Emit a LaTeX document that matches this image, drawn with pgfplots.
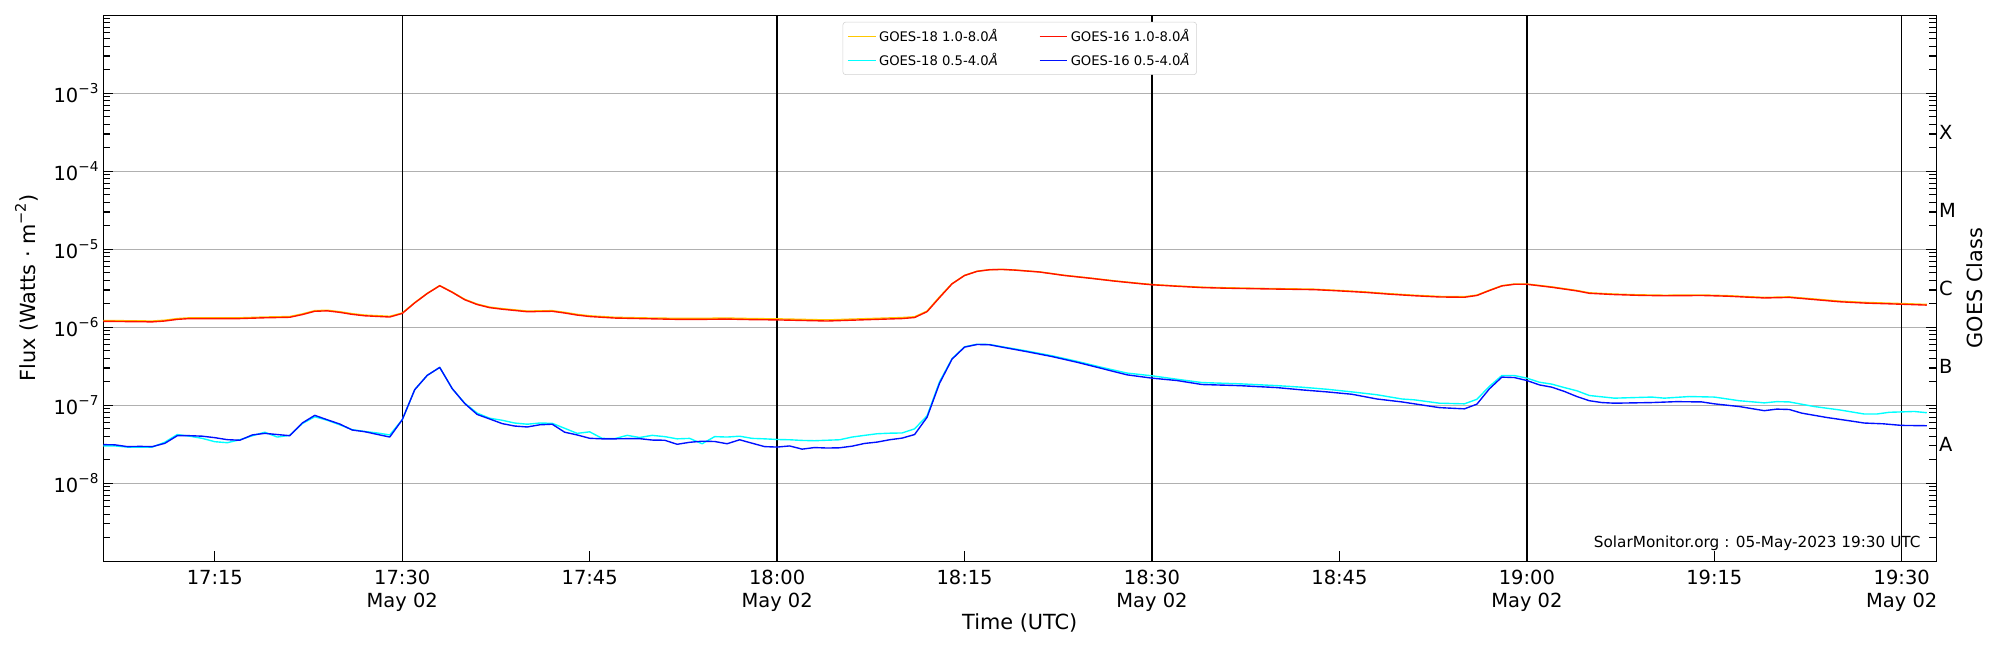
\documentclass[border=0pt]{standalone}
\usepackage{fontspec}
\setmainfont{DejaVu Sans}
\usepackage{pgfplots}
\pgfplotsset{compat=1.18}
\usepackage{pgfplotstable}

\definecolor{g18long}{RGB}{255,200,0}
\definecolor{g18short}{RGB}{0,255,255}
\definecolor{g16long}{RGB}{255,16,0}
\definecolor{g16short}{RGB}{0,16,255}
\definecolor{gridgray}{RGB}{176,176,176}

\newcommand\tickfont{\fontsize{14}{16.6}\selectfont}
\newcommand\labfont{\fontsize{15}{18}\selectfont}
\newcommand\p[1]{10\raisebox{0.48em}{\fontsize{9.8}{10}\selectfont −#1}}

\pgfplotstableread{
m f
6 1.19e-6
8 1.18e-6
10 1.17e-6
11 1.20e-6
12 1.26e-6
13 1.29e-6
15 1.29e-6
17 1.29e-6
19 1.32e-6
21 1.34e-6
22 1.45e-6
23 1.60e-6
24 1.62e-6
25 1.55e-6
26 1.46e-6
27 1.40e-6
29 1.35e-6
30 1.50e-6
31 2.05e-6
32 2.70e-6
33 3.40e-6
34 2.80e-6
35 2.25e-6
36 1.95e-6
37 1.78e-6
38 1.70e-6
40 1.58e-6
42 1.60e-6
43 1.52e-6
44 1.43e-6
45 1.37e-6
47 1.31e-6
50 1.28e-6
52 1.26e-6
54 1.26e-6
56 1.27e-6
58 1.25e-6
60 1.24e-6
62 1.22e-6
64 1.20e-6
66 1.23e-6
68 1.26e-6
70 1.29e-6
71 1.33e-6
72 1.58e-6
73 2.40e-6
74 3.60e-6
75 4.60e-6
76 5.20e-6
77 5.45e-6
78 5.50e-6
79 5.40e-6
81 5.10e-6
83 4.60e-6
85 4.25e-6
87 3.90e-6
89 3.62e-6
90 3.50e-6
92 3.35e-6
94 3.22e-6
96 3.16e-6
99 3.10e-6
103 3.03e-6
105 2.92e-6
107 2.80e-6
109 2.65e-6
111 2.53e-6
113 2.44e-6
115 2.42e-6
116 2.55e-6
117 2.95e-6
118 3.38e-6
119 3.55e-6
120 3.55e-6
122 3.25e-6
124 2.92e-6
125 2.72e-6
127 2.62e-6
129 2.56e-6
131 2.53e-6
134 2.55e-6
136 2.50e-6
139 2.37e-6
141 2.41e-6
143 2.26e-6
145 2.12e-6
147 2.04e-6
150 1.97e-6
152 1.92e-6
}\gsixlong

\pgfplotstableread{
m f
6 1.22e-6
8 1.21e-6
10 1.20e-6
11 1.23e-6
12 1.29e-6
13 1.32e-6
15 1.32e-6
17 1.32e-6
19 1.35e-6
21 1.37e-6
22 1.48e-6
23 1.63e-6
24 1.65e-6
25 1.58e-6
26 1.49e-6
27 1.43e-6
29 1.38e-6
30 1.52e-6
31 2.07e-6
32 2.72e-6
33 3.42e-6
34 2.83e-6
35 2.28e-6
36 1.98e-6
37 1.81e-6
38 1.73e-6
40 1.61e-6
42 1.63e-6
43 1.55e-6
44 1.46e-6
45 1.40e-6
47 1.34e-6
50 1.31e-6
52 1.30e-6
54 1.30e-6
56 1.31e-6
58 1.29e-6
60 1.28e-6
62 1.26e-6
64 1.24e-6
66 1.27e-6
68 1.30e-6
70 1.33e-6
71 1.36e-6
72 1.61e-6
73 2.45e-6
74 3.62e-6
75 4.62e-6
76 5.22e-6
77 5.47e-6
78 5.52e-6
79 5.42e-6
81 5.12e-6
83 4.63e-6
85 4.28e-6
87 3.93e-6
89 3.65e-6
90 3.53e-6
92 3.38e-6
94 3.26e-6
96 3.20e-6
99 3.14e-6
103 3.07e-6
105 2.96e-6
107 2.84e-6
109 2.69e-6
111 2.57e-6
113 2.48e-6
115 2.46e-6
116 2.58e-6
117 2.98e-6
118 3.41e-6
119 3.58e-6
120 3.58e-6
122 3.29e-6
124 2.96e-6
125 2.76e-6
127 2.66e-6
129 2.60e-6
131 2.57e-6
134 2.59e-6
136 2.54e-6
139 2.41e-6
141 2.45e-6
143 2.30e-6
145 2.16e-6
147 2.08e-6
150 2.01e-6
152 1.96e-6
}\geightlong

\pgfplotstableread{
m f
6 3.12e-8
7 3.10e-8
8 2.94e-8
9 2.96e-8
10 2.94e-8
11 3.24e-8
12 4.06e-8
13 4.06e-8
14 4.00e-8
15 3.83e-8
16 3.61e-8
17 3.55e-8
18 4.15e-8
19 4.35e-8
20 4.20e-8
21 4.06e-8
22 5.91e-8
23 7.40e-8
24 6.50e-8
25 5.73e-8
26 4.80e-8
27 4.57e-8
28 4.22e-8
29 3.90e-8
30 6.50e-8
31 1.58e-7
32 2.41e-7
33 3.05e-7
34 1.63e-7
35 1.05e-7
36 7.60e-8
37 6.65e-8
38 5.80e-8
39 5.40e-8
40 5.25e-8
41 5.60e-8
42 5.70e-8
43 4.50e-8
44 4.15e-8
45 3.76e-8
46 3.70e-8
47 3.70e-8
48 3.72e-8
49 3.72e-8
50 3.57e-8
51 3.55e-8
52 3.15e-8
53 3.34e-8
54 3.45e-8
55 3.42e-8
56 3.20e-8
57 3.60e-8
58 3.25e-8
59 2.94e-8
60 2.90e-8
61 3.00e-8
62 2.73e-8
63 2.86e-8
64 2.82e-8
65 2.84e-8
66 2.98e-8
67 3.23e-8
68 3.36e-8
69 3.60e-8
70 3.78e-8
71 4.20e-8
72 7.00e-8
73 1.91e-7
74 3.90e-7
75 5.55e-7
76 6.00e-7
77 5.95e-7
78 5.55e-7
80 4.85e-7
82 4.20e-7
84 3.55e-7
86 2.95e-7
88 2.45e-7
90 2.22e-7
92 2.07e-7
94 1.84e-7
97 1.78e-7
100 1.68e-7
102 1.57e-7
104 1.48e-7
106 1.38e-7
108 1.20e-7
110 1.10e-7
111 1.04e-7
113 9.30e-8
115 8.97e-8
116 1.03e-7
117 1.62e-7
118 2.29e-7
119 2.26e-7
120 2.07e-7
121 1.82e-7
122 1.70e-7
123 1.50e-7
124 1.29e-7
125 1.14e-7
126 1.08e-7
127 1.06e-7
130 1.08e-7
132 1.11e-7
134 1.10e-7
135 1.04e-7
137 9.60e-8
139 8.50e-8
140 8.90e-8
141 8.80e-8
142 7.90e-8
144 6.95e-8
146 6.24e-8
147 5.90e-8
148.5 5.77e-8
150 5.50e-8
152 5.45e-8
}\gsixshort

\pgfplotstableread{
m f
6 3.00e-8
7 3.00e-8
8 2.90e-8
9 2.90e-8
10 2.90e-8
11 3.35e-8
12 4.20e-8
13 4.00e-8
14 3.75e-8
15 3.40e-8
16 3.30e-8
17 3.60e-8
18 4.05e-8
19 4.50e-8
20 3.90e-8
21 4.10e-8
22 5.80e-8
23 7.10e-8
24 6.40e-8
25 5.60e-8
26 4.85e-8
27 4.60e-8
28 4.40e-8
29 4.15e-8
30 6.50e-8
31 1.58e-7
32 2.41e-7
33 3.05e-7
34 1.63e-7
35 1.06e-7
36 7.90e-8
37 6.80e-8
38 6.40e-8
39 5.90e-8
40 5.70e-8
41 5.90e-8
42 5.85e-8
43 5.05e-8
44 4.35e-8
45 4.55e-8
46 3.75e-8
47 3.72e-8
48 4.10e-8
49 3.85e-8
50 4.10e-8
51 3.95e-8
52 3.70e-8
53 3.75e-8
54 3.20e-8
55 3.95e-8
56 3.90e-8
57 4.00e-8
58 3.75e-8
59 3.70e-8
60 3.63e-8
61 3.60e-8
62 3.53e-8
63 3.50e-8
64 3.55e-8
65 3.60e-8
66 3.90e-8
67 4.10e-8
68 4.30e-8
69 4.37e-8
70 4.40e-8
71 4.97e-8
72 7.30e-8
73 2.00e-7
74 3.95e-7
75 5.60e-7
76 6.05e-7
77 6.00e-7
78 5.62e-7
80 4.95e-7
82 4.30e-7
84 3.65e-7
86 3.05e-7
88 2.58e-7
90 2.38e-7
92 2.15e-7
94 1.95e-7
97 1.88e-7
100 1.78e-7
102 1.70e-7
104 1.60e-7
106 1.48e-7
108 1.36e-7
110 1.20e-7
111 1.17e-7
113 1.06e-7
115 1.04e-7
116 1.19e-7
117 1.74e-7
118 2.40e-7
119 2.40e-7
120 2.22e-7
121 1.97e-7
122 1.86e-7
123 1.68e-7
124 1.53e-7
125 1.33e-7
127 1.23e-7
130 1.27e-7
131 1.23e-7
133 1.29e-7
135 1.27e-7
137 1.14e-7
139 1.07e-7
140 1.11e-7
141 1.10e-7
143 9.60e-8
145 8.70e-8
147 7.70e-8
148 7.70e-8
149 8.10e-8
151 8.30e-8
152 8.00e-8
}\geightshort

\begin{document}
\begin{tikzpicture}
\begin{axis}[
  name=ax,
  scale only axis,
  width=1319.6pt, height=393pt,
  xmin=6.08, xmax=152.75,
  ymode=log, ymin=1e-9, ymax=1e-2,
  axis line style={line width=0.8pt},
  xtick={15,30,45,60,75,90,105,120,135,150},
  xticklabels={17:15,{17:30\\May 02},17:45,{18:00\\May 02},18:15,{18:30\\May 02},18:45,{19:00\\May 02},19:15,{19:30\\May 02}},
  xticklabel style={align=center, font=\tickfont, yshift=-3pt},
  xtick pos=bottom,
  ytick={1e-8,1e-7,1e-6,1e-5,1e-4,1e-3},
  yticklabels={\p{8},\p{7},\p{6},\p{5},\p{4},\p{3}},
  yticklabel style={font=\tickfont},
  minor ytick={2e-9,3e-9,4e-9,5e-9,6e-9,7e-9,8e-9,9e-9,
    2e-8,3e-8,4e-8,5e-8,6e-8,7e-8,8e-8,9e-8,
    2e-7,3e-7,4e-7,5e-7,6e-7,7e-7,8e-7,9e-7,
    2e-6,3e-6,4e-6,5e-6,6e-6,7e-6,8e-6,9e-6,
    2e-5,3e-5,4e-5,5e-5,6e-5,7e-5,8e-5,9e-5,
    2e-4,3e-4,4e-4,5e-4,6e-4,7e-4,8e-4,9e-4,
    2e-3,3e-3,4e-3,5e-3,6e-3,7e-3,8e-3,9e-3},
  tick align=inside,
  major tick length=7pt, minor tick length=5pt,
  tick style={black, line width=0.8pt},
  ymajorgrids,
  major grid style={gridgray, line width=0.8pt},
  xlabel={Time (UTC)},
  xlabel style={font=\labfont, at={(axis description cs:0.5,-0.114)}, anchor=center},
  ylabel={Flux (Watts · m\raisebox{0.48em}{\fontsize{10.5}{11}\selectfont −2})},
  ylabel style={font=\labfont, at={(axis description cs:-0.0417,0.5)}, anchor=center},
  legend columns=2,
  legend style={at={(0.5,0.988)}, anchor=north, draw=gray!35, rounded corners=2pt,
    font=\fontsize{9.5}{11}\selectfont, inner xsep=3pt, inner ysep=3pt, row sep=3.2pt,
    /tikz/every even column/.append style={column sep=27.5pt}},
  legend cell align=left,
  legend image code/.code={\draw[#1] (0pt,0pt) -- (20pt,0pt);},
]
\addplot[black, line width=0.9pt, forget plot] coordinates {(30,1e-9) (30,1e-2)};
\addplot[black, line width=0.9pt, forget plot] coordinates {(60,1e-9) (60,1e-2)};
\addplot[black, line width=0.9pt, forget plot] coordinates {(90,1e-9) (90,1e-2)};
\addplot[black, line width=0.9pt, forget plot] coordinates {(120,1e-9) (120,1e-2)};
\addplot[black, line width=0.9pt, forget plot] coordinates {(150,1e-9) (150,1e-2)};

\addplot[g18long, line width=1.0pt, line join=round] table[x=m,y=f] {\geightlong};
\addlegendentry{GOES-18 1.0-8.0{\itshape Å}}
\addplot[g16long, line width=1.0pt, line join=round] table[x=m,y=f] {\gsixlong};
\addlegendentry{GOES-16 1.0-8.0{\itshape Å}}
\addplot[g18short, line width=1.0pt, line join=round] table[x=m,y=f] {\geightshort};
\addlegendentry{GOES-18 0.5-4.0{\itshape Å}}
\addplot[g16short, line width=1.0pt, line join=round] table[x=m,y=f] {\gsixshort};
\addlegendentry{GOES-16 0.5-4.0{\itshape Å}}

\node[anchor=east, font=\fontsize{11}{13}\selectfont, inner sep=0pt] at (rel axis cs:1,0) [xshift=-11pt, yshift=13pt] {SolarMonitor.org : 05-May-2023 19:30 UTC};
\end{axis}

\begin{axis}[
  scale only axis,
  width=1319.6pt, height=393pt,
  xmin=0, xmax=1,
  ymode=log, ymin=1e-9, ymax=1e-2,
  hide x axis,
  axis y line*=right,
  axis line style={draw=none},
  ytick={3.162e-4,3.162e-5,3.162e-6,3.162e-7,3.162e-8},
  yticklabels={X,M,C,B,A},
  yticklabel style={font=\tickfont, inner xsep=2pt},
  major tick length=0pt, minor tick length=0pt,
  minor ytick={},
  ylabel={GOES Class},
  ylabel style={font=\labfont, at={(axis description cs:1.0209,0.5)}, anchor=center, rotate=0},
]
\addplot[draw=none, forget plot] coordinates {(0.5,1e-5)};
\end{axis}

\pgfresetboundingbox
\path ([xshift=-74.4pt,yshift=-64pt]ax.south west) rectangle ([xshift=46pt,yshift=11pt]ax.north east);
\end{tikzpicture}
\end{document}
